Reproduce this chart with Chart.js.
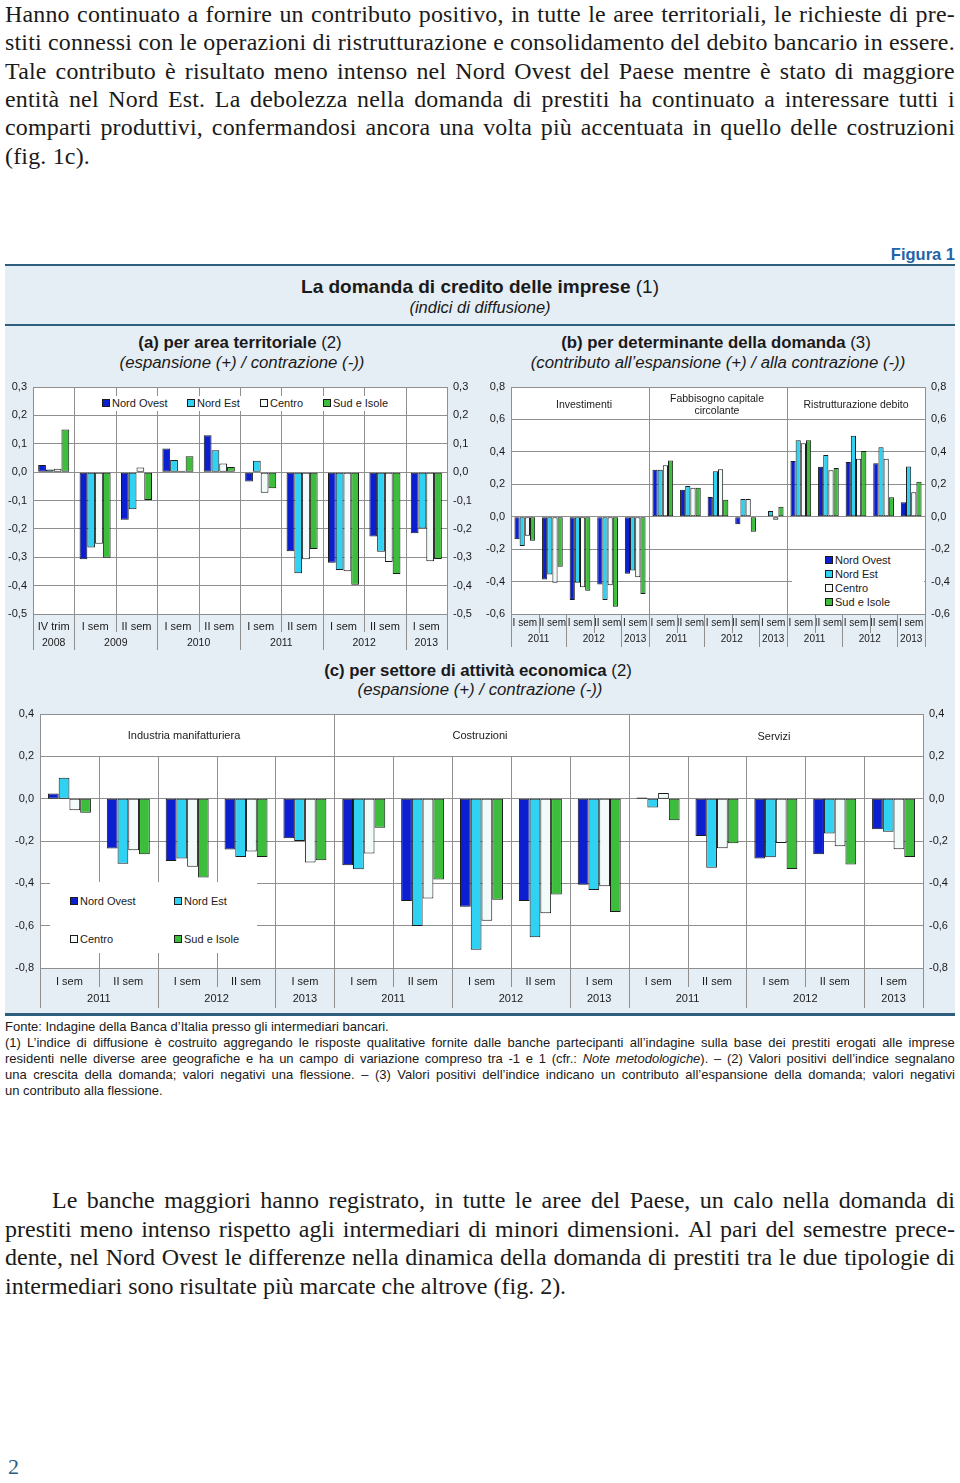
<!DOCTYPE html>
<html lang="it">
<head>
<meta charset="utf-8">
<title>La domanda di credito delle imprese</title>
<script src="https://cdn.jsdelivr.net/npm/chart.js"></script>
<style>
  html, body { margin: 0; padding: 0; background: #fff; }
  #page { position: relative; width: 960px; height: 1483px; overflow: hidden; color: #1a1a1a; }
  .serif { font-family: 'Liberation Serif', 'DejaVu Serif', serif; }
  .sans { font-family: 'Liberation Sans', Arial, sans-serif; }
  .c { position: absolute; transform: translate(-50%, -50%); white-space: nowrap; text-align: center; }
  .ln { position: absolute; white-space: nowrap; transform-origin: 0 0; }
  .ln.j { display: flex; justify-content: space-between; }
  .box { position: absolute; left: 5px; width: 950px; top: 266px; height: 748px; background: #e5edf5; }
  .rule { position: absolute; left: 5px; width: 950px; background: #2d5f7c; }
  canvas { position: absolute; }
  .wb { position: absolute; background: #fff; }
  .sq { position: absolute; width: 6px; height: 6px; border: 1px solid #1a1a1a; }
  .lt { position: absolute; font-size: 11px; line-height: 13px; white-space: nowrap; transform: translateY(-50%); }
</style>
</head>
<body>
<div id="page">
  <div class="sans" style="position:absolute; right:5px; top:245px; font-size:16.5px; font-weight:bold; color:#1f64a8;">Figura 1</div>
  <div class="rule" style="top:264px; height:3px;"></div>
  <div class="box"></div>
  <div class="rule" style="top:324px; height:2px;"></div>
  <div class="rule" style="top:1013px; height:3px;"></div>

  <div class="c sans" style="left:480px; top:287px; font-size:19px;"><b>La domanda di credito delle imprese</b> (1)</div>
  <div class="c sans" style="left:480px; top:307px; font-size:16.5px;"><i>(indici di diffusione)</i></div>

  <div class="c sans" style="left:240px; top:343px; font-size:16.8px;"><b>(a) per area territoriale</b> (2)</div>
  <div class="c sans" style="left:242px; top:363px; font-size:16.8px;"><i>(espansione (+) / contrazione (-))</i></div>
  <div class="c sans" style="left:716px; top:343px; font-size:16.8px;"><b>(b) per determinante della domanda</b> (3)</div>
  <div class="c sans" style="left:718px; top:363px; font-size:16.8px;"><i>(contributo all’espansione (+) / alla contrazione (-))</i></div>
  <div class="c sans" style="left:478px; top:671px; font-size:16.8px;"><b>(c) per settore di attività economica</b> (2)</div>
  <div class="c sans" style="left:480px; top:690px; font-size:16.8px;"><i>(espansione (+) / contrazione (-))</i></div>

  <canvas id="chartA" width="480" height="270" style="left:0; top:380px;"></canvas>
  <canvas id="chartB" width="480" height="267" style="left:480px; top:380px;"></canvas>
  <canvas id="chartC" width="960" height="308" style="left:0; top:700px;"></canvas>

  <div id="overlays" class="sans"></div>

  <div class="serif" style="position:absolute; left:8px; top:1453px; font-size:22px; line-height:28px; color:#2c5d80;">2</div>
</div>

<script>
// ---- data ----
const areas = ['Nord Ovest', 'Nord Est', 'Centro', 'Sud e Isole'];

// (a) per area territoriale
const aSem = ['IV trim', 'I sem', 'II sem', 'I sem', 'II sem', 'I sem', 'II sem', 'I sem', 'II sem', 'I sem'];
const aYears = ['2008', '2009', '2010', '2011', '2012', '2013'];
const aSpans = [1, 2, 2, 2, 2, 1];
const aNordOvest = [0.025, -0.307, -0.168, 0.083, 0.130, -0.033, -0.279, -0.319, -0.227, -0.215];
const aNordEst   = [0.009, -0.266, -0.131, 0.043, 0.077, 0.040, -0.356, -0.345, -0.281, -0.199];
const aCentro    = [0.012, -0.252, 0.016, 0.005, 0.030, -0.073, -0.307, -0.349, -0.317, -0.314];
const aSud       = [0.150, -0.302, -0.098, 0.056, 0.018, -0.057, -0.271, -0.397, -0.359, -0.306];

// (b) per determinante della domanda
const bSections = ['Investimenti', 'Fabbisogno capitale circolante', 'Ristrutturazione debito'];
const bSem = ['I sem', 'II sem', 'I sem', 'II sem', 'I sem',
              'I sem', 'II sem', 'I sem', 'II sem', 'I sem',
              'I sem', 'II sem', 'I sem', 'II sem', 'I sem'];
const bYears = ['2011', '2012', '2013', '2011', '2012', '2013', '2011', '2012', '2013'];
const bSpans = [2, 2, 1, 2, 2, 1, 2, 2, 1];
const bNordOvest = [-0.139, -0.387, -0.513, -0.418, -0.352, 0.290, 0.166, 0.122, -0.046, -0.004, 0.344, 0.308, 0.337, 0.329, 0.089];
const bNordEst   = [-0.180, -0.356, -0.408, -0.514, -0.331, 0.290, 0.190, 0.280, 0.110, 0.035, 0.472, 0.381, 0.500, 0.428, 0.310];
const bCentro    = [-0.118, -0.408, -0.435, -0.422, -0.373, 0.317, 0.178, 0.292, 0.110, -0.019, 0.453, 0.286, 0.358, 0.358, 0.151];
const bSud       = [-0.149, -0.309, -0.456, -0.555, -0.476, 0.346, 0.178, 0.104, -0.093, 0.062, 0.472, 0.300, 0.406, 0.120, 0.215];

// (c) per settore di attività economica
const cSections = ['Industria manifatturiera', 'Costruzioni', 'Servizi'];
const cSem = bSem;
const cYears = bYears;
const cSpans = bSpans;
const cNordOvest = [0.024, -0.236, -0.294, -0.240, -0.187, -0.314, -0.483, -0.511, -0.483, -0.407, 0.005, -0.176, -0.283, -0.263, -0.145];
const cNordEst   = [0.099, -0.307, -0.283, -0.275, -0.200, -0.333, -0.601, -0.714, -0.655, -0.432, -0.042, -0.326, -0.277, -0.164, -0.156];
const cCentro    = [-0.055, -0.244, -0.322, -0.250, -0.302, -0.259, -0.472, -0.577, -0.541, -0.414, 0.027, -0.234, -0.209, -0.225, -0.239];
const cSud       = [-0.066, -0.263, -0.373, -0.275, -0.291, -0.137, -0.382, -0.478, -0.453, -0.536, -0.102, -0.211, -0.332, -0.311, -0.275];

// ---- styles ----
const FONT = "'Liberation Sans', Arial, sans-serif";
const GRID = '#8f8f8f';
const INK = '#1a1a1a';
const areaColors = ['#0b1fd0', '#2fd2f2', '#f3fafa', '#3cbe3c'];

const fmt = v => (Math.round(v * 10) / 10).toFixed(1).replace('.', ',');

// white plot area, vertical separators, grouped year labels under the sem labels
const groupAxis = {
  id: 'groupAxis',
  beforeDraw(chart) {
    const { ctx, chartArea: a } = chart;
    ctx.save();
    ctx.fillStyle = '#ffffff';
    ctx.fillRect(a.left, a.top, a.right - a.left, a.bottom - a.top);
    ctx.restore();
  },
  beforeDatasetsDraw(chart, args, o) {
    const { ctx, chartArea: a, scales: { x, y } } = chart;
    const n = chart.data.labels.length;
    const edge = i => i === 0 ? a.left : i === n ? a.right : (x.getPixelForValue(i - 1) + x.getPixelForValue(i)) / 2;
    const ends = arr => { let k = 0; return new Set(arr.map(s => (k += s))); };
    const yearEnds = ends(o.spans);
    const secEnds = ends(o.sections);
    const line = (px, y0, y1) => { ctx.beginPath(); ctx.moveTo(px, y0); ctx.lineTo(px, y1); ctx.stroke(); };
    ctx.save();
    ctx.strokeStyle = GRID;
    ctx.lineWidth = 1;
    for (let i = 0; i <= n; i++) {
      const px = Math.round(edge(i)) + 0.5;
      if (i === 0 || i === n || secEnds.has(i)) { line(px, a.top, chart.height); continue; }
      if (o.catLines) line(px, o.catFrom == null ? a.top : y.getPixelForValue(o.catFrom), a.bottom);
      line(px, a.bottom, yearEnds.has(i) ? chart.height : a.bottom + o.shortLen);
    }
    ctx.restore();
  },
  afterDraw(chart, args, o) {
    const { ctx, chartArea: a, scales: { x } } = chart;
    const n = chart.data.labels.length;
    const edge = i => i === 0 ? a.left : i === n ? a.right : (x.getPixelForValue(i - 1) + x.getPixelForValue(i)) / 2;
    ctx.save();
    ctx.fillStyle = INK;
    ctx.font = o.yearFont + 'px ' + FONT;
    ctx.textAlign = 'center';
    ctx.textBaseline = 'middle';
    let s = 0;
    o.years.forEach((lab, j) => {
      const e = s + o.spans[j];
      ctx.fillText(lab, (edge(s) + edge(e)) / 2, o.yearY);
      s = e;
    });
    ctx.restore();
  }
};

function makeChart(id, cfg) {
  const yTicks = { stepSize: cfg.step, callback: fmt, padding: 6, color: INK, font: { family: FONT, size: 11 } };
  const fitY = w => s => { s.width = w; s.paddingTop = 0; s.paddingBottom = 0; };
  return new Chart(document.getElementById(id), {
    type: 'bar',
    data: {
      labels: cfg.labels,
      datasets: cfg.series.map((d, i) => ({
        label: areas[i], data: d, yAxisID: 'y',
        backgroundColor: areaColors[i], borderColor: INK, borderWidth: 1, borderSkipped: false,
        categoryPercentage: cfg.catPct, barPercentage: 1
      }))
    },
    options: {
      responsive: false, animation: false, devicePixelRatio: 1,
      layout: { padding: { top: cfg.padTop, right: 0, bottom: 0, left: 0 } },
      plugins: { legend: { display: false }, tooltip: { enabled: false }, groupAxis: cfg.group },
      scales: {
        x: {
          grid: { display: false, drawTicks: false }, border: { display: false },
          ticks: { autoSkip: false, maxRotation: 0, minRotation: 0, padding: cfg.xPad, color: INK, font: { family: FONT, size: cfg.xFont } },
          afterFit: s => { s.height = cfg.xHeight; s.paddingLeft = 0; s.paddingRight = 0; }
        },
        y: {
          position: 'left', min: cfg.min, max: cfg.max, ticks: yTicks,
          grid: { color: GRID, drawTicks: false }, border: { color: GRID },
          afterFit: fitY(cfg.leftW)
        },
        y2: {
          position: 'right', min: cfg.min, max: cfg.max, ticks: yTicks,
          grid: { display: false, drawTicks: false }, border: { color: GRID },
          afterFit: fitY(cfg.rightW)
        }
      }
    },
    plugins: [groupAxis]
  });
}

makeChart('chartA', {
  labels: aSem, series: [aNordOvest, aNordEst, aCentro, aSud],
  min: -0.5, max: 0.3, step: 0.1, catPct: 0.75,
  padTop: 7, xHeight: 36, xPad: 6, xFont: 11, leftW: 33, rightW: 33,
  group: { years: aYears, spans: aSpans, sections: aSpans, catLines: true, catFrom: null, shortLen: 18, yearY: 263, yearFont: 10.5 }
});

makeChart('chartB', {
  labels: bSem, series: [bNordOvest, bNordEst, bCentro, bSud],
  min: -0.6, max: 0.8, step: 0.2, catPct: 0.75,
  padTop: 7, xHeight: 33, xPad: 3, xFont: 10, leftW: 31, rightW: 35,
  group: { years: bYears, spans: bSpans, sections: [5, 5, 5], catLines: false, catFrom: null, shortLen: 19, yearY: 259, yearFont: 10 }
});

makeChart('chartC', {
  labels: cSem, series: [cNordOvest, cNordEst, cCentro, cSud],
  min: -0.8, max: 0.4, step: 0.2, catPct: 0.73,
  padTop: 14, xHeight: 40, xPad: 7, xFont: 11, leftW: 40, rightW: 37,
  group: { years: cYears, spans: cSpans, sections: [5, 5, 5], catLines: true, catFrom: 0.2, shortLen: 19, yearY: 299, yearFont: 11 }
});

// ---- overlays: legends and section names ----
const ov = document.getElementById('overlays');
function el(cls, css, html) {
  const d = document.createElement('div');
  d.className = cls;
  d.style.cssText = css;
  if (html != null) d.innerHTML = html;
  ov.appendChild(d);
  return d;
}
function legendItem(x, y, i) {
  el('sq', `left:${x}px; top:${y - 4}px; background:${areaColors[i]};`);
  el('lt', `left:${x + 10}px; top:${y}px;`, areas[i]);
}

// (a)
el('wb', 'left:98px; top:396px; width:294px; height:15px;');
legendItem(102, 403, 0);
legendItem(187, 403, 1);
legendItem(260, 403, 2);
legendItem(323, 403, 3);

// (b)
el('c', 'left:584px; top:404px; font-size:10.5px;', bSections[0]);
el('c', 'left:717px; top:404px; font-size:10.5px; line-height:12px;', 'Fabbisogno capitale<br>circolante');
el('c', 'left:856px; top:404px; font-size:10.5px;', bSections[2]);
el('wb', 'left:792px; top:552px; width:132px; height:58px;');
legendItem(825, 560, 0);
legendItem(825, 574, 1);
legendItem(825, 588, 2);
legendItem(825, 602, 3);

// (c)
el('c', 'left:184px; top:735px; font-size:11px;', cSections[0]);
el('c', 'left:480px; top:735px; font-size:11px;', cSections[1]);
el('c', 'left:774px; top:736px; font-size:11px;', cSections[2]);
el('wb', 'left:50px; top:882px; width:207px; height:71px;');
legendItem(70, 901, 0);
legendItem(174, 901, 1);
legendItem(70, 939, 2);
legendItem(174, 939, 3);

// ---- justified text blocks ----
function paragraph(lines, o) {
  const page = document.getElementById('page');
  const made = lines.map((html, i) => {
    const d = document.createElement('div');
    d.className = 'ln ' + o.cls;
    d.style.fontSize = o.size + 'px';
    d.style.lineHeight = o.lh + 'px';
    d.style.letterSpacing = (o.ls || 0) + 'px';
    d.style.color = '#1a1a1a';
    d.innerHTML = html;
    page.appendChild(d);
    const indent = i === 0 ? (o.indent || 0) : 0;
    const plain = i === lines.length - 1 || (o.plain || []).includes(i);
    return { d, html, indent, plain, natural: d.offsetWidth };
  });
  let s = 1;
  made.forEach(m => { if (!m.plain) s = Math.min(s, (o.width - m.indent) / m.natural); });
  made.forEach((m, i) => {
    const d = m.d;
    d.style.left = (o.left + m.indent) + 'px';
    d.style.top = (o.top + i * o.lh) + 'px';
    if (s < 1) d.style.transform = 'scaleX(' + s + ')';
    if (!m.plain) {
      d.classList.add('j');
      d.style.width = ((o.width - m.indent) / s) + 'px';
      d.innerHTML = m.html.split(' ').map(w => '<span>' + w + '</span>').join('');
    }
  });
}

paragraph([
  'Hanno continuato a fornire un contributo positivo, in tutte le aree territoriali, le richieste di pre-',
  'stiti connessi con le operazioni di ristrutturazione e consolidamento del debito bancario in essere.',
  'Tale contributo è risultato meno intenso nel Nord Ovest del Paese mentre è stato di maggiore',
  'entità nel Nord Est. La debolezza nella domanda di prestiti ha continuato a interessare tutti i',
  'comparti produttivi, confermandosi ancora una volta più accentuata in quello delle costruzioni',
  '(fig. 1c).'
], { cls: 'serif', size: 24, ls: 0.2, lh: 28.3, left: 5, width: 950, top: 0 });

paragraph([
  'Fonte: Indagine della Banca d’Italia presso gli intermediari bancari.',
  '(1) L’indice di diffusione è costruito aggregando le risposte qualitative fornite dalle banche partecipanti all’indagine sulla base dei prestiti erogati alle imprese',
  'residenti nelle diverse aree geografiche e ha un campo di variazione compreso tra -1 e 1 (cfr.: <i>Note</i> <i>metodologiche</i>). – (2) Valori positivi dell’indice segnalano',
  'una crescita della domanda; valori negativi una flessione. – (3) Valori positivi dell’indice indicano un contributo all’espansione della domanda; valori negativi',
  'un contributo alla flessione.'
], { cls: 'sans', size: 13, lh: 16, left: 5, width: 950, top: 1019, plain: [0] });

paragraph([
  'Le banche maggiori hanno registrato, in tutte le aree del Paese, un calo nella domanda di',
  'prestiti meno intenso rispetto agli intermediari di minori dimensioni. Al pari del semestre prece-',
  'dente, nel Nord Ovest le differenze nella dinamica della domanda di prestiti tra le due tipologie di',
  'intermediari sono risultate più marcate che altrove (fig. 2).'
], { cls: 'serif', size: 24, lh: 28.5, left: 5, width: 950, top: 1186, indent: 47 });
</script>
</body>
</html>
